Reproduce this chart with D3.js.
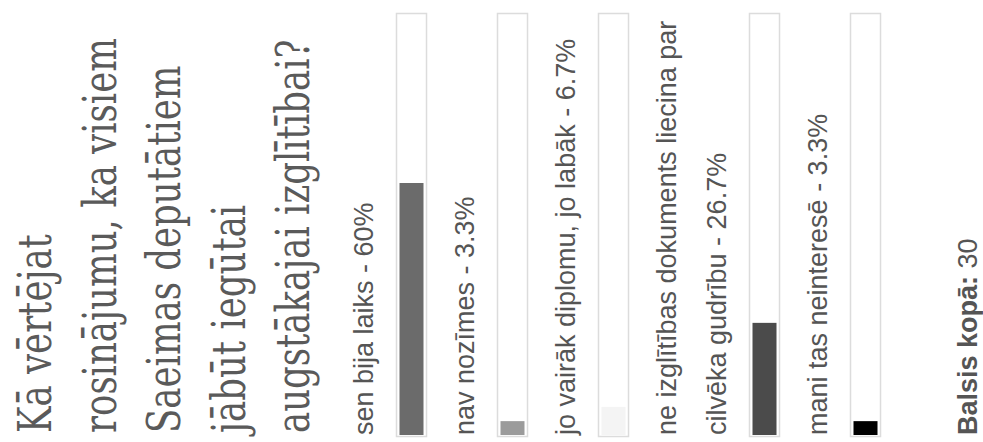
<!DOCTYPE html>
<html lang="lv">
<head>
<meta charset="UTF-8"/>
<title>Aptauja</title>
<script src="https://d3js.org/d3.v7.min.js"></script>
<style>
  html, body { margin: 0; padding: 0; background: #fff; }
</style>
</head>
<body>
<script>
    // poll data
    var titleLines = ["Kā vērtējat", "rosinājumu, ka visiem", "Saeimas deputātiem",
                      "jābūt iegūtai", "augstākajai izglītībai?"];
    var answers = ["sen bija laiks", "nav nozīmes", "jo vairāk diplomu, jo labāk",
                   "ne izglītības dokuments liecina par cilvēka gudrību", "mani tas neinteresē"];
    var percents = [60, 3.3, 6.7, 26.7, 3.3];
    var totalVotes = 30;
    var totalLabel = "Balsis kopā:";

    var barColors = ["#6b6b6b", "#9b9b9b", "#f4f4f4", "#4b4b4b", "#000000"];

    var w = 983;
    var h = 442;

    var svg = d3.select("body")
                .append("svg")
                .attr("width", w)
                .attr("height", h);

    // the widget is turned on its side: values grow upwards
    var yScale = d3.scaleLinear()
                   .domain([0, 100])
                   .range([435, 15]);

    var textBottom = 435;

    // title
    var title = svg.append("g");
    title.selectAll("text")
        .data(titleLines)
        .enter()
        .append("text")
        .attr("font-family", "DejaVu Serif Condensed, DejaVu Serif, serif")
        .attr("font-size", 47)
        .attr("fill", "#5a5a5a")
        .text(function(d) { return d; });

    var longest = d3.max(title.selectAll("text").nodes(), function(n) { return n.getComputedTextLength(); });
    var k = 395 / longest;
    title.selectAll("text")
        .attr("transform", function(d, i) {
            return "translate(" + (51 + i * 64.5) + "," + (textBottom - 2) + ") rotate(-90) scale(" + k + ",1)";
        });

    // simple word wrap against the bar length
    var measure = svg.append("text")
                     .attr("font-family", "Liberation Sans, Arial, sans-serif")
                     .attr("font-size", 27);
    function wrap(str, maxLen) {
        var words = str.split(" ");
        var lines = [];
        var cur = "";
        words.forEach(function(word) {
            var test = cur ? cur + " " + word : word;
            measure.text(test);
            if (cur && measure.node().getComputedTextLength() > maxLen) {
                lines.push(cur);
                cur = word;
            } else {
                cur = test;
            }
        });
        lines.push(cur);
        return lines;
    }

    var x = 373;
    answers.forEach(function(a, i) {
        var lines = wrap(a + " - " + percents[i] + "%", 425);
        lines.forEach(function(line, j) {
            if (j > 0) x += 50;
            svg.append("text")
               .attr("transform", "translate(" + x + "," + textBottom + ") rotate(-90)")
               .attr("font-family", "Liberation Sans, Arial, sans-serif")
               .attr("font-size", 27)
               .attr("fill", "#555")
               .text(line);
        });

        var bx = x + 23;
        svg.append("rect")
           .attr("x", bx + 0.5)
           .attr("y", yScale(100) - 1.5)
           .attr("width", 30)
           .attr("height", yScale(0) - yScale(100) + 3)
           .attr("fill", "#fff")
           .attr("stroke", "#dcdcdc")
           .attr("stroke-width", 1.5);

        svg.append("rect")
           .attr("x", bx + 3.5)
           .attr("y", yScale(percents[i]))
           .attr("width", 24)
           .attr("height", yScale(0) - yScale(percents[i]))
           .attr("fill", barColors[i]);

        x = bx + 31 + 47;
    });
    measure.remove();

    var total = svg.append("text")
       .attr("transform", "translate(" + (x + 49) + "," + textBottom + ") rotate(-90)")
       .attr("font-family", "Liberation Sans, Arial, sans-serif")
       .attr("font-size", 27)
       .attr("fill", "#555");
    total.append("tspan").attr("font-weight", "bold").text(totalLabel);
    total.append("tspan").text(" " + totalVotes);
</script>
</body>
</html>
